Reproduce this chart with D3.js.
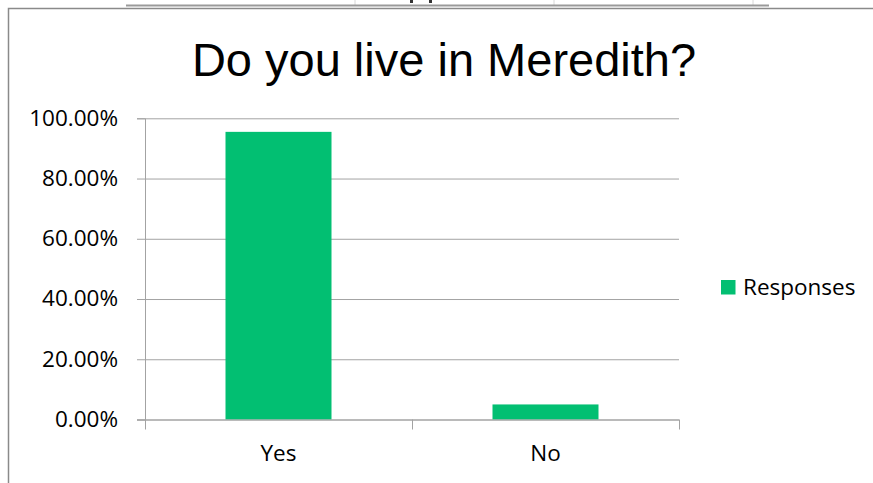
<!DOCTYPE html>
<html>
<head>
<meta charset="utf-8">
<script src="https://cdnjs.cloudflare.com/ajax/libs/d3/7.8.5/d3.min.js"></script>
<style>
  body { margin: 0; background: #fff; }
  svg { display: block; }
</style>
</head>
<body>
<div id="responsesChart"></div>
<script>
// data
var chartTitle = "Do you live in Meredith?";
var categories = ["Yes", "No"];
var responses = [0.955, 0.05];
var yTickValues = [0, 0.2, 0.4, 0.6, 0.8, 1.0];
var seriesName = "Responses";

var svgWidth = 873, svgHeight = 483;
var plotMargin = { top: 118.3, right: 194, bottom: 63.5, left: 145 };
var plotWidth = svgWidth - plotMargin.left - plotMargin.right,
    plotHeight = svgHeight - plotMargin.top - plotMargin.bottom;

var barColor = "#02bf72";
var gridColor = "#a3a3a3";
var labelFont = "'Open Sans', sans-serif";
var labelSize = 22.5;

var svg = d3.select("#responsesChart")
  .append("svg")
  .attr("width", svgWidth)
  .attr("height", svgHeight);

svg.append("rect")
  .attr("width", svgWidth)
  .attr("height", svgHeight)
  .attr("fill", "#fff");

// bits of the spreadsheet poking out above the chart
svg.selectAll(".sheetLine")
  .data([355, 554, 753])
  .enter().append("line")
  .attr("class", "sheetLine")
  .attr("x1", function (d) { return d; })
  .attr("x2", function (d) { return d; })
  .attr("y1", 0)
  .attr("y2", 5)
  .attr("stroke", "#d8d8d8");

svg.append("line")
  .attr("x1", 126).attr("x2", 769)
  .attr("y1", 5.5).attr("y2", 5.5)
  .attr("stroke", "#9a9a9a")
  .attr("stroke-width", 2);

// descenders of a cell text cut off by the chart
svg.selectAll(".cellGlyph")
  .data([410, 429])
  .enter().append("rect")
  .attr("class", "cellGlyph")
  .attr("x", function (d) { return d; })
  .attr("y", 0)
  .attr("width", 3)
  .attr("height", 3)
  .attr("fill", "#333");

// chart frame
svg.append("rect")
  .attr("x", 8.5)
  .attr("y", 8.5)
  .attr("width", svgWidth + 20)
  .attr("height", svgHeight + 20)
  .attr("fill", "none")
  .attr("stroke", "#8a8a8a")
  .attr("stroke-width", 1.5);

// title
svg.append("text")
  .attr("x", 444)
  .attr("y", 76)
  .attr("text-anchor", "middle")
  .attr("font-family", "'Liberation Sans', Arial, sans-serif")
  .attr("font-size", 47)
  .attr("fill", "#000")
  .text(chartTitle);

var g = svg.append("g")
  .attr("transform", "translate(" + plotMargin.left + "," + plotMargin.top + ")");

var yScale = d3.scaleLinear().domain([0, 1]).range([plotHeight, 0]);

var xBand = d3.scaleBand()
  .domain(categories)
  .range([0, plotWidth])
  .paddingInner(0.603)
  .paddingOuter(0.3015);

// category boundaries for the tick marks
var xEdges = d3.scaleLinear().domain([0, categories.length]).range([0, plotWidth]);

// gridlines
g.append("g")
  .attr("class", "grid")
  .call(d3.axisLeft(yScale).tickValues(yTickValues).tickSize(-plotWidth).tickFormat(""))
  .call(function (s) {
    s.select(".domain").remove();
    s.selectAll("line").attr("stroke", gridColor);
  });

// y axis
g.append("g")
  .attr("class", "y axis")
  .call(d3.axisLeft(yScale).tickValues(yTickValues).tickSize(8).tickPadding(19)
    .tickFormat(d3.format(".2%")))
  .call(function (s) {
    s.select(".domain").attr("stroke", gridColor);
    s.selectAll("line").attr("stroke", gridColor);
    s.selectAll("text")
      .attr("font-family", labelFont)
      .attr("font-size", labelSize)
      .attr("fill", "#000")
      .attr("dy", "0.3em");
  });

// bars
g.selectAll(".bar")
  .data(responses)
  .enter().append("rect")
  .attr("class", "bar")
  .attr("x", function (d, i) { return xBand(categories[i]); })
  .attr("width", xBand.bandwidth())
  .attr("y", function (d) { return yScale(d); })
  .attr("height", function (d) { return plotHeight - yScale(d); })
  .attr("fill", barColor);

// x axis line and boundary ticks
g.append("g")
  .attr("class", "x axis")
  .attr("transform", "translate(0," + plotHeight + ")")
  .call(d3.axisBottom(xEdges).ticks(categories.length).tickSize(10).tickSizeOuter(0).tickFormat(""))
  .call(function (s) {
    s.select(".domain").attr("stroke", gridColor).attr("d", "M-8,0.5H" + plotWidth);
    s.selectAll("line").attr("stroke", gridColor);
  });

// category labels
g.append("g")
  .attr("class", "x labels")
  .attr("transform", "translate(0," + plotHeight + ")")
  .call(d3.axisBottom(xBand).tickSize(0).tickPadding(26))
  .call(function (s) {
    s.select(".domain").remove();
    s.selectAll("text")
      .attr("font-family", labelFont)
      .attr("font-size", labelSize)
      .attr("fill", "#000");
  });

// legend
var legend = svg.append("g").attr("class", "legend");

legend.append("rect")
  .attr("x", 721)
  .attr("y", 280)
  .attr("width", 14.5)
  .attr("height", 14.5)
  .attr("fill", barColor);

legend.append("text")
  .attr("x", 743)
  .attr("y", 294.5)
  .attr("font-family", labelFont)
  .attr("font-size", labelSize)
  .attr("fill", "#000")
  .text(seriesName);
</script>
</body>
</html>
